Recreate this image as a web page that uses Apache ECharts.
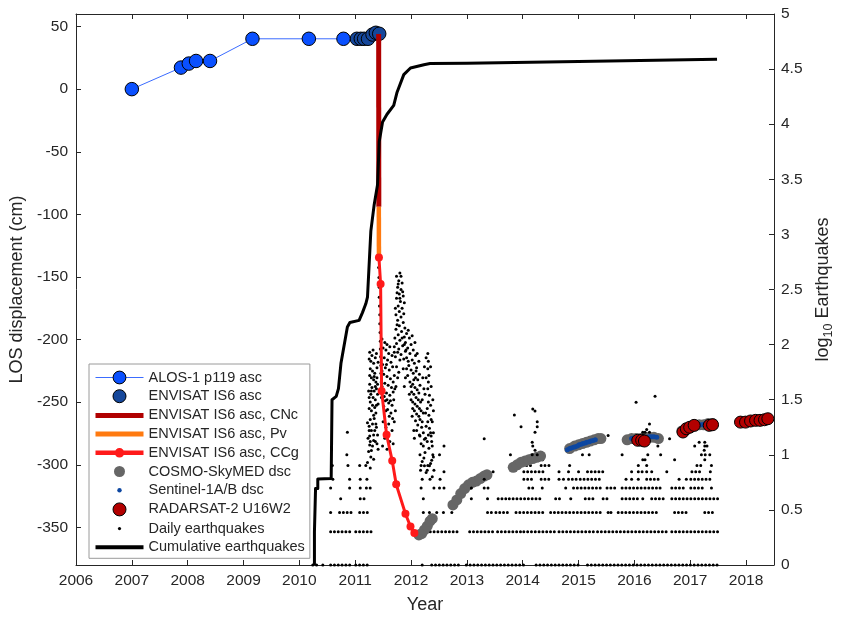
<!DOCTYPE html>
<html>
<head>
<meta charset="utf-8">
<script src="https://cdn.jsdelivr.net/npm/echarts@6/dist/echarts.min.js"></script>
<style>
  html, body { margin: 0; padding: 0; background: #fff; }
  #chart { width: 843px; height: 619px; }
</style>
</head>
<body>
<div id="chart"></div>
<script>
// ---------- tick labels ----------
const yearTicks = [2006, 2007, 2008, 2009, 2010, 2011, 2012, 2013, 2014, 2015, 2016, 2017, 2018];
const losTicks = [-350, -300, -250, -200, -150, -100, -50, 0, 50];

// ---------- LOS displacement, [decimal year, cm] ----------
const alosP119 = [
  [2007.00, 0], [2007.88, 17.2], [2008.02, 20.4], [2008.15, 22.5], [2008.40, 22.5],
  [2009.16, 40.2], [2010.17, 40.2], [2010.79, 40.2]
];
const envisatIS6 = [
  [2011.03, 40.2], [2011.10, 40.2], [2011.16, 40.2], [2011.23, 40.2],
  [2011.31, 43.6], [2011.37, 45.0], [2011.43, 44.2]
];
const envisatCNc = [[2011.420, 44], [2011.423, -94]];
const envisatPv = [[2011.423, -94], [2011.425, -134.4]];
const envisatCCg = [
  [2011.425, -134.4], [2011.455, -155.6], [2011.473, -241], [2011.562, -276],
  [2011.663, -296.8], [2011.734, -315.6], [2011.900, -339.1], [2011.990, -349.2], [2012.060, -354.5]
];
const cosmoDsc = [
  [2012.14, -356], [2012.19, -355], [2012.24, -352], [2012.29, -349], [2012.34, -345], [2012.38, -343],
  [2012.75, -332], [2012.82, -328], [2012.89, -323], [2012.96, -319], [2013.03, -316], [2013.10, -314],
  [2013.17, -313], [2013.24, -311], [2013.31, -309], [2013.36, -308],
  [2013.83, -302], [2013.90, -300], [2013.97, -298], [2014.04, -297], [2014.11, -296], [2014.18, -295],
  [2014.25, -294], [2014.32, -293],
  [2014.84, -287], [2014.93, -285], [2015.00, -284], [2015.07, -283], [2015.14, -282], [2015.21, -281],
  [2015.28, -280], [2015.35, -279], [2015.40, -279],
  [2015.87, -280], [2015.95, -279], [2016.03, -279], [2016.11, -279], [2016.19, -278], [2016.27, -278],
  [2016.35, -278], [2016.43, -279],
  [2016.85, -273], [2016.93, -271], [2017.00, -270], [2017.08, -269], [2017.16, -268], [2017.24, -268],
  [2017.32, -267], [2017.40, -267]
];
const sentinelDsc = [
  [2014.80, -288], [2014.84, -287], [2014.87, -286.5], [2014.91, -286], [2014.94, -285.5], [2014.98, -285],
  [2015.01, -284], [2015.05, -283.5], [2015.08, -283], [2015.12, -282.5], [2015.15, -282], [2015.19, -281.5],
  [2015.22, -281], [2015.26, -280.5], [2015.30, -280],
  [2015.95, -279], [2015.99, -278.5], [2016.03, -278.5], [2016.07, -278.5], [2016.11, -278], [2016.15, -278],
  [2016.19, -278], [2016.23, -278], [2016.27, -277.5], [2016.31, -277.5], [2016.35, -277.5], [2016.40, -278],
  [2016.90, -271], [2016.94, -270.5], [2016.98, -270], [2017.02, -269.5], [2017.06, -269], [2017.10, -268.5],
  [2017.14, -268.5], [2017.18, -268], [2017.22, -268], [2017.26, -267.5], [2017.30, -267.5], [2017.35, -267],
  [2017.40, -267]
];
const radarsatU16W2 = [
  [2016.06, -280.4], [2016.13, -280.4], [2016.18, -281],
  [2016.87, -273.8], [2016.93, -271.2], [2016.99, -270], [2017.07, -268.5], [2017.34, -268.5], [2017.40, -268],
  [2017.90, -265.9], [2017.99, -265.9], [2018.08, -265], [2018.17, -264.5], [2018.25, -264.5],
  [2018.33, -264], [2018.39, -263.2]
];

// ---------- seismicity ----------
// swarm days, [decimal year, log10 daily count]
const quakeSwarm = [
  // onset of the eruption
  [2011.425, 3.23], [2011.42, 2.70], [2011.425, 2.61], [2011.43, 2.52], [2011.43, 2.43], [2011.435, 2.35],
  [2011.44, 2.27], [2011.44, 2.19], [2011.445, 2.11], [2011.45, 2.03], [2011.45, 1.96], [2011.455, 1.89],
  [2011.46, 1.81], [2011.46, 1.74], [2011.465, 1.66], [2011.47, 1.59], [2011.47, 1.52],
  // pre-eruptive swarm
  [2011.26, 1.93], [2011.30, 1.90], [2011.28, 1.85], [2011.33, 1.83], [2011.36, 1.88], [2011.27, 1.78],
  [2011.31, 1.76], [2011.35, 1.74], [2011.39, 1.79], [2011.29, 1.70], [2011.33, 1.68], [2011.37, 1.66],
  [2011.26, 1.64], [2011.30, 1.61], [2011.34, 1.58], [2011.38, 1.60], [2011.28, 1.55], [2011.32, 1.52],
  [2011.36, 1.50], [2011.27, 1.48], [2011.31, 1.45], [2011.35, 1.43], [2011.29, 1.40], [2011.33, 1.36],
  [2011.27, 1.32], [2011.31, 1.28], [2011.29, 1.22], [2011.33, 1.18], [2011.27, 1.12], [2011.31, 1.08],
  [2011.29, 1.04], [2011.37, 1.38], [2011.40, 1.55], [2011.39, 1.70], [2011.24, 1.58],
  [2011.25, 1.87], [2011.32, 1.95], [2011.38, 1.92], [2011.41, 1.84], [2011.26, 1.72], [2011.34, 1.71],
  [2011.40, 1.64], [2011.36, 1.62], [2011.25, 1.52], [2011.29, 1.58], [2011.41, 1.46], [2011.38, 1.45],
  [2011.25, 1.42], [2011.34, 1.33], [2011.37, 1.28], [2011.25, 1.26], [2011.35, 1.22], [2011.26, 1.17],
  [2011.39, 1.10], [2011.33, 1.13],
  // early eruptive phase
  [2011.50, 1.97], [2011.55, 1.95], [2011.60, 1.92], [2011.52, 1.88], [2011.58, 1.86], [2011.64, 1.84],
  [2011.49, 1.82], [2011.54, 1.79], [2011.61, 1.77], [2011.67, 1.80], [2011.51, 1.73], [2011.57, 1.71],
  [2011.63, 1.69], [2011.70, 1.72], [2011.53, 1.65], [2011.59, 1.63], [2011.65, 1.61], [2011.50, 1.58],
  [2011.56, 1.56], [2011.62, 1.54], [2011.68, 1.57], [2011.54, 1.49], [2011.60, 1.47], [2011.66, 1.45],
  [2011.58, 1.41], [2011.64, 1.38],
  [2011.48, 2.05], [2011.53, 2.02], [2011.57, 2.00], [2011.62, 1.98], [2011.66, 1.90], [2011.70, 1.93],
  [2011.48, 1.76], [2011.56, 1.82], [2011.68, 1.66], [2011.71, 1.60], [2011.48, 1.62], [2011.52, 1.53],
  [2011.57, 1.50], [2011.63, 1.49], [2011.69, 1.50], [2011.51, 1.44], [2011.55, 1.40], [2011.61, 1.35],
  [2011.67, 1.33], [2011.72, 1.40],
  [2011.50, 1.30], [2011.55, 1.25], [2011.60, 1.28], [2011.66, 1.22], [2011.70, 1.30], [2011.53, 1.15],
  [2011.62, 1.12], [2011.68, 1.10], [2011.57, 1.05], [2011.49, 1.08],
  // late 2011 peak
  [2011.80, 2.65], [2011.74, 2.62], [2011.78, 2.58], [2011.84, 2.56], [2011.76, 2.52], [2011.82, 2.50],
  [2011.79, 2.46], [2011.86, 2.44], [2011.74, 2.42], [2011.81, 2.39], [2011.77, 2.35], [2011.84, 2.33],
  [2011.79, 2.30], [2011.73, 2.27], [2011.82, 2.25], [2011.76, 2.22], [2011.86, 2.20], [2011.79, 2.17],
  [2011.73, 2.14], [2011.83, 2.12], [2011.77, 2.09], [2011.88, 2.07], [2011.80, 2.04], [2011.74, 2.01],
  [2011.85, 1.99], [2011.78, 1.96], [2011.90, 1.94], [2011.82, 1.91], [2011.72, 1.89], [2011.87, 1.87],
  [2011.77, 2.55], [2011.82, 2.62], [2011.75, 2.47], [2011.85, 2.48], [2011.80, 2.42], [2011.88, 2.38],
  [2011.72, 2.33], [2011.87, 2.28], [2011.75, 2.18], [2011.89, 2.15], [2011.71, 2.06], [2011.84, 2.06],
  [2011.76, 1.93], [2011.88, 2.00], [2011.70, 1.98], [2011.80, 1.86],
  [2011.74, 1.80], [2011.76, 1.70], [2011.73, 1.62], [2011.78, 1.75], [2011.86, 1.78], [2011.90, 1.70],
  [2011.88, 1.62],
  // early 2012
  [2011.92, 2.10], [2011.97, 2.06], [2011.90, 2.02], [2012.00, 2.00], [2011.94, 1.97], [2012.04, 1.95],
  [2011.98, 1.92], [2012.08, 1.90], [2011.92, 1.88], [2012.02, 1.86], [2012.06, 1.83], [2011.96, 1.81],
  [2012.10, 1.79], [2012.00, 1.77], [2012.04, 1.74], [2011.94, 1.72], [2012.08, 1.70], [2012.12, 1.68],
  [2011.98, 1.66], [2012.03, 1.64], [2012.07, 1.61], [2012.11, 1.59], [2012.01, 1.57], [2012.05, 1.55],
  [2012.09, 1.52], [2012.13, 1.50], [2012.03, 1.48], [2012.07, 1.46], [2012.11, 1.44], [2012.15, 1.42],
  [2012.06, 1.40], [2012.10, 1.37], [2012.14, 1.35], [2012.08, 1.31], [2012.12, 1.27], [2012.05, 1.22],
  [2011.95, 2.13], [2012.02, 2.08], [2012.07, 2.02], [2011.91, 1.95], [2012.11, 1.92], [2012.14, 1.85],
  [2011.95, 1.85], [2012.09, 1.76], [2012.15, 1.73], [2011.92, 1.78], [2012.05, 1.68], [2012.16, 1.63],
  [2012.00, 1.62], [2012.14, 1.56], [2011.97, 1.55], [2012.17, 1.48], [2012.00, 1.50], [2012.18, 1.40],
  [2012.03, 1.42], [2012.16, 1.32], [2012.02, 1.35], [2012.19, 1.25], [2012.10, 1.22], [2012.15, 1.18],
  [2012.06, 1.15],
  [2012.30, 1.92], [2012.31, 1.85], [2012.30, 1.78], [2012.32, 1.72], [2012.31, 1.66], [2012.30, 1.60],
  [2012.33, 1.54], [2012.31, 1.48], [2012.29, 1.42], [2012.32, 1.36], [2012.30, 1.30], [2012.33, 1.24],
  [2012.31, 1.18], [2012.29, 1.12], [2012.32, 1.06], [2012.22, 1.20], [2012.24, 1.14], [2012.22, 1.08],
  [2012.25, 1.02], [2012.23, 0.97], [2012.38, 1.08], [2012.40, 0.98],
  [2012.27, 1.88], [2012.35, 1.80], [2012.27, 1.70], [2012.36, 1.62], [2012.25, 1.55], [2012.35, 1.45],
  [2012.26, 1.38], [2012.36, 1.32], [2012.27, 1.26], [2012.35, 1.20], [2012.26, 1.15], [2012.37, 1.12],
  [2012.20, 1.30], [2012.22, 1.38],
  [2012.20, 1.50], [2012.23, 1.60], [2012.21, 1.70], [2012.24, 1.80], [2012.39, 1.50], [2012.40, 1.40],
  [2012.38, 1.30], [2012.40, 1.20], [2012.37, 0.95], [2012.33, 0.90], [2012.29, 0.86],
  // tails of the swarm
  [2011.22, 1.29], [2011.25, 1.22], [2011.23, 1.15], [2011.26, 1.09], [2011.24, 1.03], [2011.28, 0.98],
  [2011.22, 0.93], [2011.27, 0.88], [2011.33, 0.96], [2011.36, 1.12], [2011.38, 1.25], [2011.40, 1.18],
  [2011.41, 1.05],
  [2012.16, 1.17], [2012.18, 1.10], [2012.16, 1.00], [2012.20, 0.94], [2012.17, 0.86], [2012.24, 0.90],
  [2012.27, 0.84], [2012.36, 1.17], [2012.39, 1.00], [2012.35, 0.92], [2012.41, 0.86], [2012.38, 0.80]
];
// isolated days, [decimal year, daily count]
const quakeDays = [
  [2010.56, 3], [2012.22, 3], [2012.33, 3], [2012.46, 3], [2012.58, 3], [2012.73, 3], [2015.53, 3], [2015.58, 3],
  [2010.74, 4], [2012.22, 4], [2013.08, 4], [2013.37, 4], [2016.15, 4],
  [2010.56, 5], [2010.90, 5], [2012.41, 5], [2012.51, 5], [2012.59, 5], [2013.08, 5], [2014.35, 5],
  [2014.77, 5], [2016.46, 5], [2017.38, 5],
  [2010.60, 6], [2010.90, 6], [2011.09, 6], [2011.21, 6], [2012.20, 6], [2012.34, 6], [2012.52, 6],
  [2013.31, 6], [2014.65, 6], [2014.73, 6], [2015.95, 6], [2016.07, 6], [2016.80, 6], [2016.93, 6],
  [2012.59, 7], [2013.47, 7], [2014.65, 7], [2014.82, 7], [2015.00, 7], [2015.95, 7], [2016.22, 7],
  [2016.31, 7], [2016.58, 7], [2017.36, 7],
  [2010.59, 8], [2010.87, 8], [2011.08, 8], [2011.19, 8], [2012.18, 8], [2012.30, 8], [2014.47, 8],
  [2014.84, 8], [2016.07, 8], [2016.22, 8], [2017.38, 8],
  [2016.15, 9], [2016.19, 9], [2016.72, 9], [2017.26, 9],
  [2010.85, 10], [2012.51, 10], [2013.78, 10], [2014.17, 10], [2014.26, 10], [2015.07, 10], [2015.19, 10],
  [2015.78, 10], [2016.24, 10], [2016.47, 10], [2017.35, 10],
  [2014.22, 11], [2017.25, 11],
  [2012.59, 12], [2014.18, 12], [2016.42, 12], [2017.08, 12], [2017.26, 12], [2017.30, 12],
  [2014.17, 13], [2017.16, 13], [2017.26, 13],
  [2013.31, 14], [2016.63, 14],
  [2015.53, 15],
  [2010.86, 16], [2014.22, 16], [2016.15, 16], [2016.19, 16], [2016.27, 16],
  [2016.22, 17], [2014.26, 18], [2016.27, 19], [2014.26, 20], [2013.97, 18],
  [2013.85, 23], [2014.22, 25], [2014.18, 26], [2016.03, 30], [2016.37, 34]
];
// stretches of days sharing one daily count, [first year, last year, count]
const quakeRuns = [
  [2010.24, 2010.33, 1], [2010.42, 2010.42, 1], [2010.56, 2010.95, 1], [2011.01, 2011.22, 1],
  [2012.20, 2012.20, 1], [2012.37, 2012.87, 1], [2012.99, 2014.06, 1], [2014.24, 2015.00, 1], [2015.16, 2017.49, 1],
  [2010.56, 2010.92, 2], [2011.01, 2011.29, 2], [2012.14, 2012.50, 2], [2012.55, 2012.87, 2],
  [2013.05, 2013.50, 2], [2013.55, 2013.97, 2], [2014.02, 2014.59, 2], [2014.65, 2015.30, 2],
  [2015.34, 2016.58, 2], [2016.67, 2017.50, 2],
  [2010.72, 2010.95, 3], [2011.08, 2011.24, 3], [2013.37, 2013.45, 3], [2013.52, 2013.74, 3],
  [2013.88, 2014.38, 3], [2014.50, 2015.43, 3], [2015.71, 2016.42, 3], [2016.72, 2016.95, 3], [2017.26, 2017.45, 3],
  [2011.09, 2011.16, 4], [2013.56, 2013.70, 4], [2013.76, 2014.33, 4], [2014.59, 2014.68, 4],
  [2014.86, 2014.91, 4], [2015.12, 2015.30, 4], [2015.44, 2015.57, 4], [2015.78, 2016.07, 4],
  [2016.31, 2016.58, 4], [2016.67, 2017.03, 4], [2017.08, 2017.49, 4],
  [2011.09, 2011.14, 5], [2011.20, 2011.29, 5], [2012.18, 2012.24, 5], [2013.31, 2013.38, 5],
  [2014.11, 2014.24, 5], [2014.91, 2015.39, 5], [2015.51, 2015.68, 5], [2015.78, 2016.42, 5],
  [2016.67, 2016.93, 5], [2017.01, 2017.28, 5],
  [2014.02, 2014.19, 6], [2014.33, 2014.47, 6], [2014.82, 2015.00, 6], [2015.03, 2015.39, 6],
  [2015.85, 2015.90, 6], [2016.22, 2016.49, 6], [2017.01, 2017.40, 6],
  [2014.02, 2014.42, 7], [2015.16, 2015.48, 7], [2016.07, 2016.15, 7], [2017.03, 2017.19, 7],
  [2014.07, 2014.15, 8], [2014.33, 2014.42, 8], [2017.12, 2017.23, 8],
  [2014.22, 2014.36, 9],
  [2017.20, 2017.33, 10]
];
// cumulative count, [decimal year, log10 total]
const cumulativeQuakes = [
  [2010.27, 0], [2010.27, 0.30], [2010.29, 0.30], [2010.29, 0.695], [2010.33, 0.695], [2010.33, 0.78],
  [2010.57, 0.785], [2010.585, 1.50], [2010.66, 1.53], [2010.70, 1.60], [2010.745, 1.83], [2010.86, 2.16],
  [2010.905, 2.20], [2011.07, 2.22], [2011.13, 2.29], [2011.19, 2.37], [2011.22, 2.43], [2011.28, 3.03],
  [2011.34, 3.27], [2011.40, 3.45], [2011.43, 3.84], [2011.49, 4.02], [2011.57, 4.09], [2011.69, 4.17],
  [2011.75, 4.29], [2011.87, 4.45], [2011.99, 4.51], [2012.23, 4.54], [2012.34, 4.55], [2013.00, 4.553],
  [2015.00, 4.57], [2017.48, 4.59]
];

// ---------- styling ----------
const FONT = '"Liberation Sans", Arial, Helvetica, sans-serif';
const INK = '#262626';
const C = {
  alos: '#0a50ff', alosLine: '#3b6cff', envisat: '#15479b', cnc: '#b00000', pv: '#ff7a10',
  ccg: '#ff1a1a', cosmo: '#666666', sentinel: '#0d47a1', radarsat: '#b30000', quake: '#000000'
};

// legend glyphs drawn in a 48x16 box
function iconCircle(r) {
  return 'path://M0,0 M48,16 M' + (24 - r) + ',8 a' + r + ',' + r + ' 0 1,1 ' + (2 * r) + ',0 a' + r + ',' + r + ' 0 1,1 ' + (-2 * r) + ',0 Z';
}
function iconBar(h) {
  return 'path://M0,0 M48,16 M0,' + (8 - h / 2) + ' H48 V' + (8 + h / 2) + ' H0 Z';
}
function iconBarDot(h, r) {
  return iconBar(h) + ' M' + (24 - r) + ',8 a' + r + ',' + r + ' 0 1,1 ' + (2 * r) + ',0 a' + r + ',' + r + ' 0 1,1 ' + (-2 * r) + ',0 Z';
}

const quakeDaysLog = quakeDays.map(d => [d[0], Math.log10(d[1])]);

const chart = echarts.init(document.getElementById('chart'), null, { renderer: 'canvas' });

const axisCommon = {
  type: 'value',
  axisLine: { show: true, onZero: false, lineStyle: { color: INK, width: 1 } },
  splitLine: { show: false },
  axisTick: { inside: true, length: 5, lineStyle: { color: INK } },
  axisLabel: { color: INK, fontFamily: FONT, fontSize: 15.5, margin: 8, formatter: v => String(v) }
};
const titleStyle = { color: INK, fontFamily: FONT, fontSize: 18 };

chart.setOption({
  animation: false,
  backgroundColor: '#fff',
  grid: { left: 76, right: 63, top: 14, bottom: 49 },
  xAxis: [
    Object.assign({}, axisCommon, {
      position: 'bottom', min: 2006, max: 2018.5,
      axisTick: Object.assign({}, axisCommon.axisTick, { customValues: yearTicks }),
      axisLabel: Object.assign({}, axisCommon.axisLabel, { customValues: yearTicks }),
      name: 'Year', nameLocation: 'middle', nameGap: 31, nameTextStyle: titleStyle
    }),
    Object.assign({}, axisCommon, {
      position: 'top', min: 2006, max: 2018.5,
      axisTick: Object.assign({}, axisCommon.axisTick, { customValues: yearTicks }),
      axisLabel: { show: false }
    })
  ],
  yAxis: [
    Object.assign({}, axisCommon, {
      position: 'left', min: -380, max: 60,
      axisTick: Object.assign({}, axisCommon.axisTick, { customValues: losTicks }),
      axisLabel: Object.assign({}, axisCommon.axisLabel, { customValues: losTicks }),
      name: 'LOS displacement (cm)', nameLocation: 'middle', nameGap: 47, nameRotate: 90,
      nameTextStyle: titleStyle
    }),
    Object.assign({}, axisCommon, {
      position: 'right', min: 0, max: 5, interval: 0.5,
      axisLabel: Object.assign({}, axisCommon.axisLabel, { margin: 7 }),
      name: '{a|log}{b|10}{a| Earthquakes}', nameLocation: 'middle', nameGap: 37, nameRotate: 90,
      nameTextStyle: {
        color: INK, fontFamily: FONT,
        rich: {
          a: { fontSize: 18, fontFamily: FONT, color: INK, lineHeight: 24 },
          b: { fontSize: 12.5, fontFamily: FONT, color: INK, lineHeight: 24, verticalAlign: 'bottom' }
        }
      }
    })
  ],
  legend: {
    orient: 'vertical', left: 89, top: 364,
    itemWidth: 48, itemHeight: 16, itemGap: 2.7,
    padding: [6, 5, 3, 6],
    borderColor: '#9a9a9a', borderWidth: 1, borderRadius: 0, backgroundColor: '#ffffff',
    selectedMode: false,
    textStyle: { color: INK, fontFamily: FONT, fontSize: 14.5 },
    data: [
      { name: 'ALOS-1 p119 asc', itemStyle: { color: C.alos, borderColor: '#000', borderWidth: 1 }, lineStyle: { color: C.alosLine, width: 1 } },
      { name: 'ENVISAT IS6 asc', icon: iconCircle(6.5), itemStyle: { color: C.envisat, borderColor: '#000', borderWidth: 1 } },
      { name: 'ENVISAT IS6 asc, CNc', icon: iconBar(5), itemStyle: { color: C.cnc, borderWidth: 0 } },
      { name: 'ENVISAT IS6 asc, Pv', icon: iconBar(5), itemStyle: { color: C.pv, borderWidth: 0 } },
      { name: 'ENVISAT IS6 asc, CCg', icon: iconBarDot(4.5, 4.8), itemStyle: { color: C.ccg, borderWidth: 0 } },
      { name: 'COSMO-SkyMED dsc', icon: iconCircle(5.5), itemStyle: { color: C.cosmo, borderWidth: 0 } },
      { name: 'Sentinel-1A/B dsc', icon: iconCircle(2.2), itemStyle: { color: C.sentinel, borderWidth: 0 } },
      { name: 'RADARSAT-2 U16W2', icon: iconCircle(6.5), itemStyle: { color: C.radarsat, borderColor: '#000', borderWidth: 1 } },
      { name: 'Daily earthquakes', icon: iconCircle(1.6), itemStyle: { color: C.quake, borderWidth: 0 } },
      { name: 'Cumulative earthquakes', icon: iconBar(4), itemStyle: { color: '#000', borderWidth: 0 } }
    ]
  },
  series: [
    {
      name: 'ALOS-1 p119 asc', type: 'line', data: alosP119,
      symbol: 'circle', symbolSize: 13.5, showAllSymbol: true,
      lineStyle: { color: C.alosLine, width: 1 },
      itemStyle: { color: C.alos, borderColor: '#000', borderWidth: 1 },
      emphasis: { disabled: true }
    },
    {
      name: 'ENVISAT IS6 asc', type: 'scatter', data: envisatIS6, symbolSize: 13.5,
      itemStyle: { color: C.envisat, borderColor: '#000', borderWidth: 1, opacity: 1 },
      emphasis: { disabled: true }
    },
    {
      name: 'ENVISAT IS6 asc, CNc', type: 'line', data: envisatCNc, symbol: 'none',
      lineStyle: { color: C.cnc, width: 5, cap: 'butt' }, itemStyle: { color: C.cnc },
      emphasis: { disabled: true }
    },
    {
      name: 'ENVISAT IS6 asc, Pv', type: 'line', data: envisatPv, symbol: 'none',
      lineStyle: { color: C.pv, width: 4.5, cap: 'butt' }, itemStyle: { color: C.pv },
      emphasis: { disabled: true }
    },
    {
      name: 'ENVISAT IS6 asc, CCg', type: 'line', data: envisatCCg,
      symbol: 'circle', symbolSize: 8, showAllSymbol: true,
      lineStyle: { color: C.ccg, width: 3 }, itemStyle: { color: C.ccg, borderWidth: 0 },
      emphasis: { disabled: true }
    },
    {
      name: 'COSMO-SkyMED dsc', type: 'scatter', data: cosmoDsc, symbolSize: 11,
      itemStyle: { color: C.cosmo, opacity: 1 }, emphasis: { disabled: true }
    },
    {
      name: 'Sentinel-1A/B dsc', type: 'scatter', data: sentinelDsc, symbolSize: 5,
      itemStyle: { color: C.sentinel, opacity: 1 }, emphasis: { disabled: true }
    },
    {
      name: 'RADARSAT-2 U16W2', type: 'scatter', data: radarsatU16W2, symbolSize: 12,
      itemStyle: { color: C.radarsat, borderColor: '#000', borderWidth: 1, opacity: 1 },
      emphasis: { disabled: true }
    },
    {
      name: 'Daily earthquakes', type: 'scatter', yAxisIndex: 1, data: quakeSwarm, symbolSize: 3,
      itemStyle: { color: C.quake, opacity: 1 }, emphasis: { disabled: true }
    },
    {
      name: 'Daily earthquakes', type: 'scatter', yAxisIndex: 1, data: quakeDaysLog, symbolSize: 3,
      itemStyle: { color: C.quake, opacity: 1 }, emphasis: { disabled: true }
    },
    {
      name: 'Daily earthquakes', type: 'custom', yAxisIndex: 1, data: quakeRuns,
      encode: { x: [0, 1], y: 2 },
      itemStyle: { color: C.quake },
      renderItem: function (params, api) {
        const level = Math.log10(api.value(2));
        const a = api.coord([api.value(0), level]);
        const b = api.coord([api.value(1), level]);
        return {
          type: 'line',
          shape: { x1: a[0], y1: a[1], x2: b[0] + 0.01, y2: b[1] },
          style: { stroke: C.quake, lineWidth: 3, lineCap: 'round', lineDash: [0.01, 3.8] }
        };
      }
    },
    {
      name: 'Cumulative earthquakes', type: 'line', yAxisIndex: 1, data: cumulativeQuakes, symbol: 'none',
      lineStyle: { color: '#000', width: 3, join: 'round' }, itemStyle: { color: '#000' },
      emphasis: { disabled: true }
    }
  ]
});
</script>
</body>
</html>
